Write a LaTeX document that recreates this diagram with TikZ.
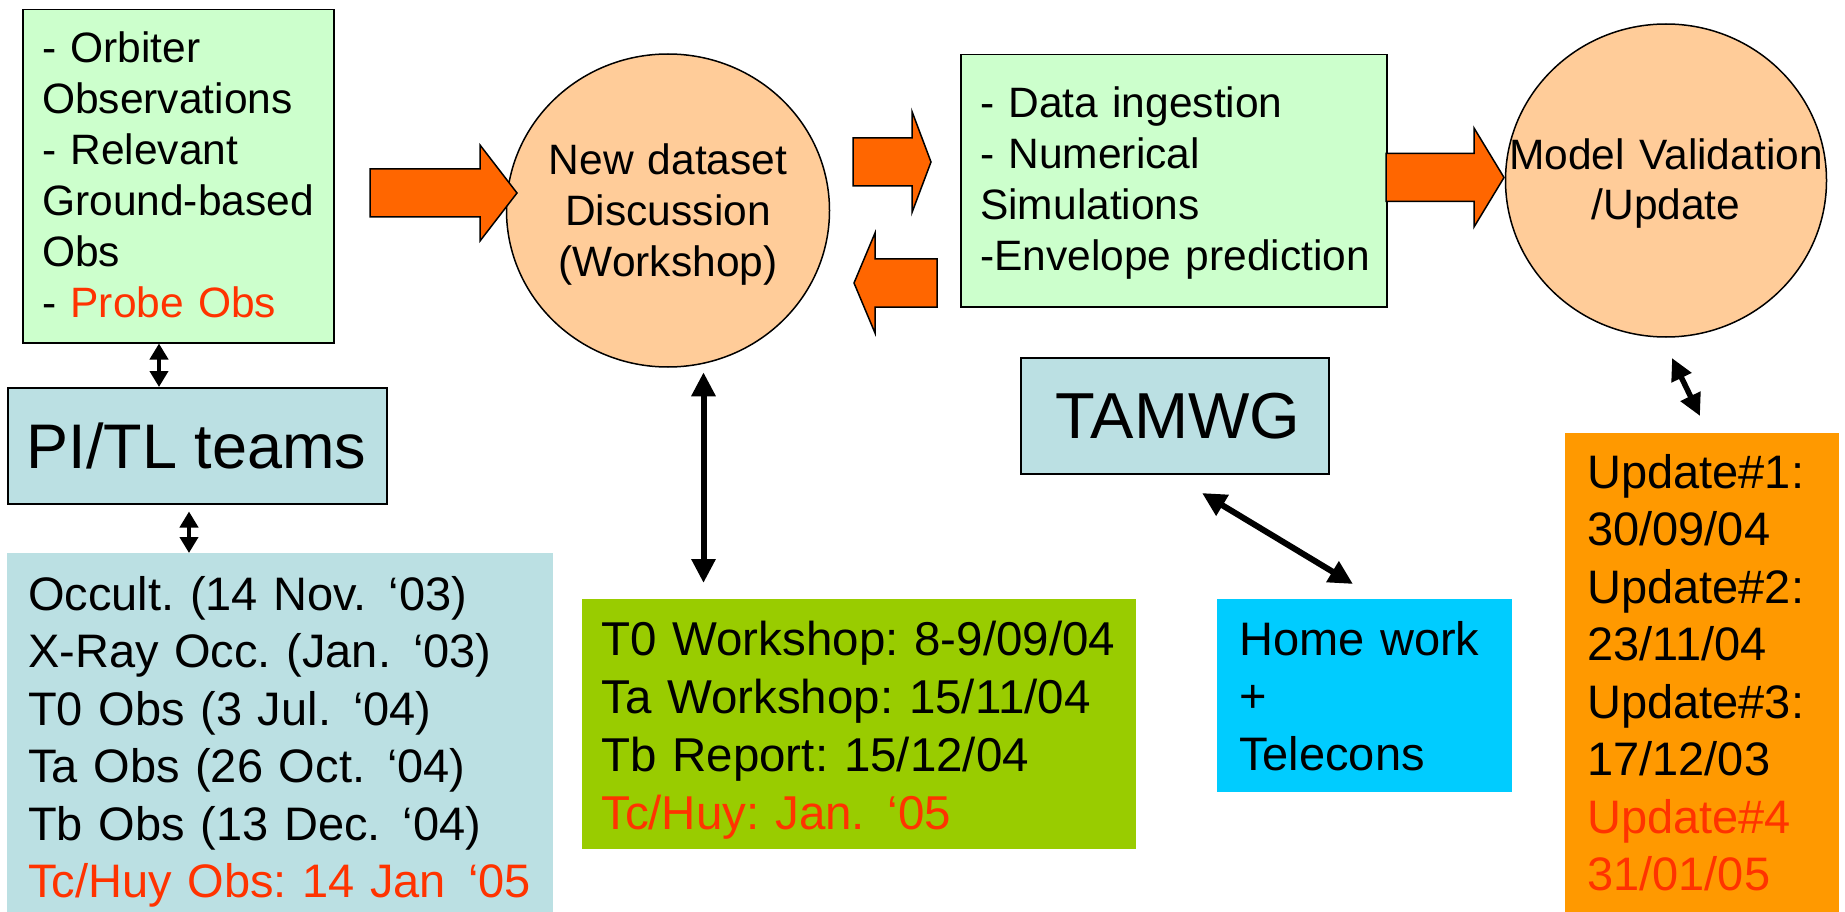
\documentclass[tikz,border=0pt]{standalone}
\usepackage{fontspec}
\setmainfont{Liberation Sans}
\usetikzlibrary{shapes.geometric,arrows.meta}

\definecolor{paleGreen}{HTML}{CCFFCC}
\definecolor{peach}{HTML}{FFCC99}
\definecolor{blockOrange}{HTML}{FF6600}
\definecolor{paleTeal}{HTML}{BBE0E3}
\definecolor{oliveGreen}{HTML}{99CC00}
\definecolor{skyCyan}{HTML}{00CCFF}
\definecolor{amber}{HTML}{FF9900}
\definecolor{alertRed}{HTML}{FF3300}

% wide gap before an opening quote, as in the date labels
\newcommand\oq{\hspace{0.47em}‘}

% horizontal block arrow: tail x, tip x, axis y, shaft half, head half, head base x
\newcommand\blockarrow[6]{%
  \filldraw[fill=blockOrange, draw=black, line width=1.5pt, line join=miter]
    (#1,#3-#4) -- (#6,#3-#4) -- (#6,#3-#5) -- (#2,#3) -- (#6,#3+#5)
    -- (#6,#3+#4) -- (#1,#3+#4) -- cycle;}

\begin{document}
\frenchspacing
\begin{tikzpicture}[x=1pt,y=-1pt,
  box/.style={draw=black, line width=1.5pt, inner sep=0pt, anchor=north west},
  flatbox/.style={inner sep=0pt, anchor=north west},
  bubble/.style={ellipse, draw=black, line width=1.5pt, fill=peach, inner sep=0pt},
  leftlines/.style={anchor=base west, inner sep=0pt, align=left, text width=#1},
  midlines/.style={anchor=base, inner sep=0pt, align=center, text width=#1},
  smalltxt/.style={font=\fontsize{42.5}{51}\selectfont},
  bigtxt/.style={font=\fontsize{47}{57.5}\selectfont},
  link/.style={line width=4pt, >={Triangle[width=18pt,length=16pt]}, <->},
  biglink/.style={line width=6pt, >={Triangle[width=23pt,length=24pt]}, <->},
  midlink/.style={line width=5.5pt, >={Triangle[width=21pt,length=22pt]}, <->}
]
\fill[white] (0,0) rectangle (1845,912);
\useasboundingbox (0,0) rectangle (1845,912);

% ---- top row -------------------------------------------------------
\node[box, fill=paleGreen, minimum width=311, minimum height=333] (obsbox) at (22,9) {};
\node[leftlines=290, smalltxt] (obstext) at (42,63)
  {- Orbiter\\Observations\\- Relevant\\Ground-based\\Obs\\- \textcolor{alertRed}{Probe Obs}};

\node[bubble, minimum width=323, minimum height=313] (dsbubble) at (668,210.5) {};
\node[midlines=320, smalltxt] (dstext) at (668,175)
  {New dataset\\Discussion\\(Workshop)};

\node[box, fill=paleGreen, minimum width=426, minimum height=252] (simbox) at (960,54) {};
\node[leftlines=410, smalltxt] (simtext) at (980,118)
  {- Data ingestion\\- Numerical\\Simulations\\-Envelope prediction};

\node[bubble, minimum width=321, minimum height=313] (mvbubble) at (1666,180.5) {};
\node[midlines=330, font=\fontsize{42.5}{50}\selectfont] (mvtext) at (1666,170)
  {Model Validation\\/Update};

% block arrows of the main flow
\blockarrow{370}{517}{193}{24}{48}{480}
\blockarrow{853}{931}{162}{24}{50.5}{912}
\blockarrow{937}{854}{283}{24}{50}{875}
\blockarrow{1386}{1504}{177.5}{24}{49.5}{1474}

% ---- teams ---------------------------------------------------------
\node[box, fill=paleTeal, minimum width=379, minimum height=116] (pibox) at (7,387) {};
\node[anchor=base, inner sep=0pt, font=\fontsize{63}{75}\selectfont] (pitext) at (196.5,468) {PI/TL teams};

\node[box, fill=paleTeal, minimum width=308, minimum height=116] (tambox) at (1020,357) {};
\node[anchor=base, inner sep=0pt, font=\fontsize{65}{78}\selectfont] (tamtext) at (1178,438) {TAMWG};

% ---- schedules -----------------------------------------------------
\node[flatbox, fill=paleTeal, minimum width=546, minimum height=359] (occbox) at (7,553) {};
\node[leftlines=540, bigtxt] (occtext) at (28,610)
  {Occult. (14 Nov.\oq03)\\X-Ray Occ. (Jan.\oq03)\\T0 Obs (3 Jul.\oq04)\\Ta Obs (26 Oct.\oq04)\\Tb Obs (13 Dec.\oq04)\\\textcolor{alertRed}{Tc/Huy Obs: 14 Jan\oq05}};

\node[flatbox, fill=oliveGreen, minimum width=554, minimum height=250] (wsbox) at (582,599) {};
\node[leftlines=540, font=\fontsize{47.5}{58}\selectfont] (wstext) at (601,655)
  {T0 Workshop: 8-9/09/04\\Ta Workshop: 15/11/04\\Tb Report: 15/12/04\\\textcolor{alertRed}{Tc/Huy: Jan.\oq05}};

\node[flatbox, fill=skyCyan, minimum width=295, minimum height=193] (hwbox) at (1217,599) {};
\node[leftlines=280, bigtxt] (hwtext) at (1239,655) {Home work\\+\\Telecons};

\node[flatbox, fill=amber, minimum width=274, minimum height=479] (upbox) at (1565,433) {};
\node[leftlines=260, bigtxt] (uptext) at (1587,488)
  {Update\#1:\\30/09/04\\Update\#2:\\23/11/04\\Update\#3:\\17/12/03\\{\color{alertRed}Update\#4\\31/01/05}};

% ---- two-way links -------------------------------------------------
\coordinate (xa) at (159,0);
\coordinate (xb) at (189,0);
\coordinate (xc) at (703.5,0);
\coordinate (tamEnd) at (1202,493);
\coordinate (hwEnd) at (1353,584);
\coordinate (mvEnd) at (1672,358);
\coordinate (upEnd) at (1700,416);

\draw[link] (obsbox.south -| xa) -- (pibox.north -| xa);
\draw[link, shorten <=7pt] (pibox.south -| xb) -- (occbox.north -| xb);
\draw[biglink, shorten <=4.5pt, shorten >=16pt] (dsbubble.south -| xc) -- (wsbox.north -| xc);
\draw[biglink] (tamEnd) -- (hwEnd);
\draw[midlink] (mvEnd) -- (upEnd);
\end{tikzpicture}
\end{document}
